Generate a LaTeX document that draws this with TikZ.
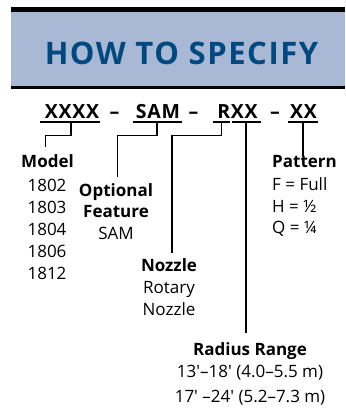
\documentclass[tikz,border=0pt]{standalone}
\usepackage{fontspec}
\setmainfont{Open Sans}
\newfontfamily\codefont[LetterSpace=4]{Open Sans}
\newfontfamily\titlefont[LetterSpace=5]{Open Sans}
\definecolor{hdrfill}{RGB}{169,185,213}
\definecolor{hdrtext}{RGB}{0,73,128}
\tikzset{
  body/.style={font=\fontsize{17}{22}\selectfont, inner sep=0pt, anchor=base},
  bodyb/.style={font=\fontsize{17}{22}\selectfont\bfseries, inner sep=0pt, anchor=base},
  bodyl/.style={body, anchor=base west},
  bodybl/.style={bodyb, anchor=base west},
  code/.style={font=\codefont\fontsize{19.5}{22}\selectfont\bfseries, inner sep=0pt, anchor=base},
  uline/.style={line width=2.2pt},
  conn/.style={line width=1.1pt},
}
\begin{document}
\begin{tikzpicture}[x=1pt,y=-1pt]
\useasboundingbox (0,0) rectangle (345,409);
% header band
\fill[hdrfill] (11,12) rectangle (345,86);
\fill[black] (11,7.5) rectangle (345,12.5);
\fill[black] (11,86) rectangle (345,89);
\node[font=\titlefont\fontsize{31}{31}\selectfont\bfseries, text=hdrtext, inner sep=0pt, anchor=base] (title) at (181.5,65) {HOW TO SPECIFY};
% code line
\node[code] (xxxx) at (72,118) {XXXX};
\node[code] (d1) at (114.5,118) {–};
\node[code] (sam) at (158,118) {SAM};
\node[code] (d2) at (193.5,118) {–};
\node[code] (rxx) at (237.5,118) {RXX};
\node[code] (d3) at (275,118) {–};
\node[code] (xx) at (303.5,118) {XX};
% underlines
\coordinate (u1a) at (40,122);  \coordinate (u1b) at (100,122);
\coordinate (u2a) at (133,122); \coordinate (u2b) at (182,122);
\coordinate (u3a) at (213,122); \coordinate (u3b) at (229.5,122);
\coordinate (u4a) at (231.5,122); \coordinate (u4b) at (261,122);
\coordinate (u5a) at (288,122); \coordinate (u5b) at (318,122);
\foreach \u in {1,...,5} \draw[uline] (u\u a) -- (u\u b);
% connector start and end points
\coordinate (s1) at (71,122);    \coordinate (e1) at (45.5,147);
\coordinate (s2) at (157,122);   \coordinate (e2) at (117.5,177);
\coordinate (s3) at (221.5,122); \coordinate (e3) at (172,253);
\coordinate (s4) at (246,122);   \coordinate (e4) at (246,333);
\coordinate (s5) at (303,122);   \coordinate (e5) at (303,157);
\draw[conn] (s1) -- ++(0,13.5) -| (e1);
\draw[conn] (s2) -- ++(0,13.5) -| (e2);
\draw[conn] (s3) -- ++(0,13.5) -| (e3);
\draw[conn] (s4) -- (e4);
\draw[conn] (s5) -- (e5);
% Model
\node[bodyb] (model) at (47.5,167) {Model};
\foreach \t [count=\i from 0] in {1802,1803,1804,1806,1812}
  \node[body] (m\t) at (47,191+22*\i) {\t};
% Optional feature
\node[bodyb] (opt1) at (116,196) {Optional};
\node[bodyb] (opt2) at (116,217.5) {Feature};
\node[body] (opt3) at (116,239) {SAM};
% Nozzle
\node[bodyb] (noz1) at (169,271) {Nozzle};
\node[body] (noz2) at (169,293.5) {Rotary};
\node[body] (noz3) at (169,315) {Nozzle};
% Radius range
\node[bodyb] (rad1) at (250,355) {Radius Range};
\node[body] (rad2) at (250,377) {13\textquotesingle–18\textquotesingle{} (4.0–5.5 m)};
\node[body] (rad3) at (250,402) {17\textquotesingle{} –24\textquotesingle{} (5.2–7.3 m)};
% Pattern
\node[bodybl] (pat1) at (272,167) {Pattern};
\node[bodyl] (pat2) at (272,190) {F = Full};
\node[bodyl] (pat3) at (272,212) {H = ½};
\node[bodyl] (pat4) at (272,233) {Q = ¼};
\end{tikzpicture}
\end{document}
